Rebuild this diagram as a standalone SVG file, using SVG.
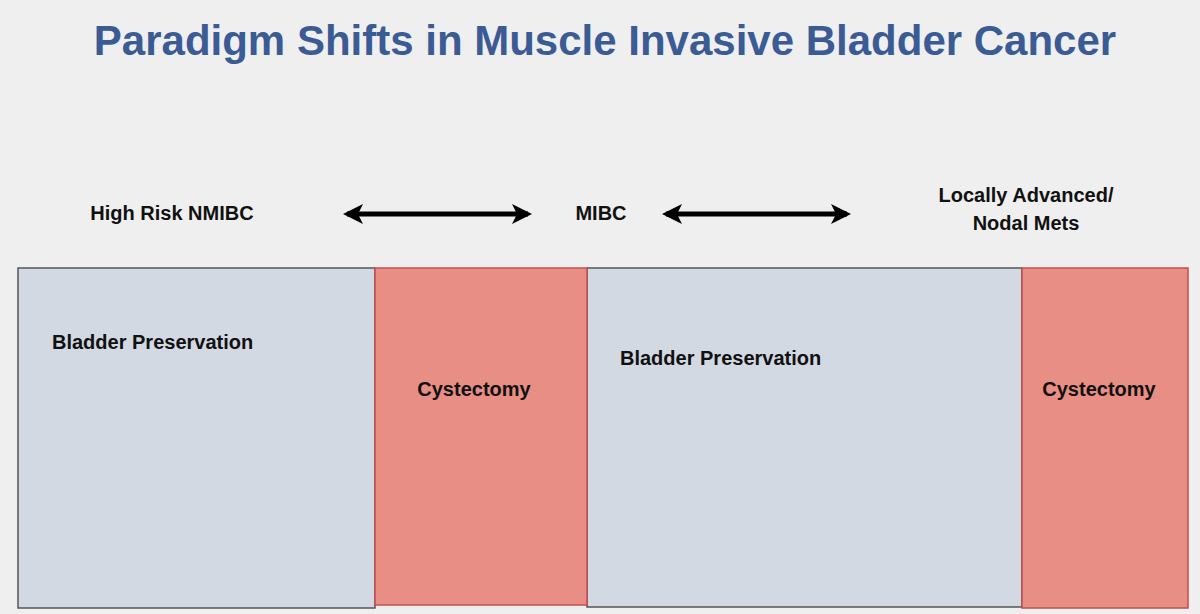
<svg xmlns="http://www.w3.org/2000/svg" width="1200" height="614" viewBox="0 0 1200 614">
<style>
text{font-family:"Liberation Sans",Arial,sans-serif;font-weight:bold;fill:#111}
.t{fill:#3b5b94;font-size:42px}
.l{font-size:20px}
.bp{fill:#d3d9e3;stroke:#555;stroke-width:1.5}
.cy{fill:#e88e84;stroke:#c0504d;stroke-width:1.5}
.a{stroke:#000;stroke-width:5;marker-start:url(#h);marker-end:url(#h)}
</style>
<defs><marker id="h" viewBox="0 0 10 10" refX="8" refY="5" markerWidth="4" markerHeight="4" orient="auto-start-reverse"><path d="M0,0L10,5L0,10L2.5,5z" fill="#000"/></marker></defs>
<rect width="1200" height="614" fill="#efefef"/>
<text class="t" x="605" y="55" text-anchor="middle">Paradigm Shifts in Muscle Invasive Bladder Cancer</text>
<g id="lab1"><text class="l" x="172" y="220" text-anchor="middle">High Risk NMIBC</text></g>
<g id="lab2"><text class="l" x="601" y="220" text-anchor="middle">MIBC</text></g>
<g id="lab3"><text class="l" x="1026" y="202" text-anchor="middle">Locally Advanced/</text><text class="l" x="1026" y="230" text-anchor="middle">Nodal Mets</text></g>
<g id="connectors"><line class="a" x1="347" y1="214" x2="528" y2="214"/><line class="a" x1="666" y1="214" x2="847" y2="214"/></g>
<g id="bp1"><rect class="bp" x="18" y="268" width="357" height="340"/><text class="l" x="52" y="349">Bladder Preservation</text></g>
<g id="bp2"><rect class="bp" x="587" y="268" width="435" height="339"/><text class="l" x="620" y="365">Bladder Preservation</text></g>
<g id="cy1"><rect class="cy" x="375" y="268" width="212" height="337"/><text class="l" x="474" y="396" text-anchor="middle">Cystectomy</text></g>
<g id="cy2"><rect class="cy" x="1022" y="268" width="166" height="340"/><text class="l" x="1099" y="396" text-anchor="middle">Cystectomy</text></g>
</svg>
